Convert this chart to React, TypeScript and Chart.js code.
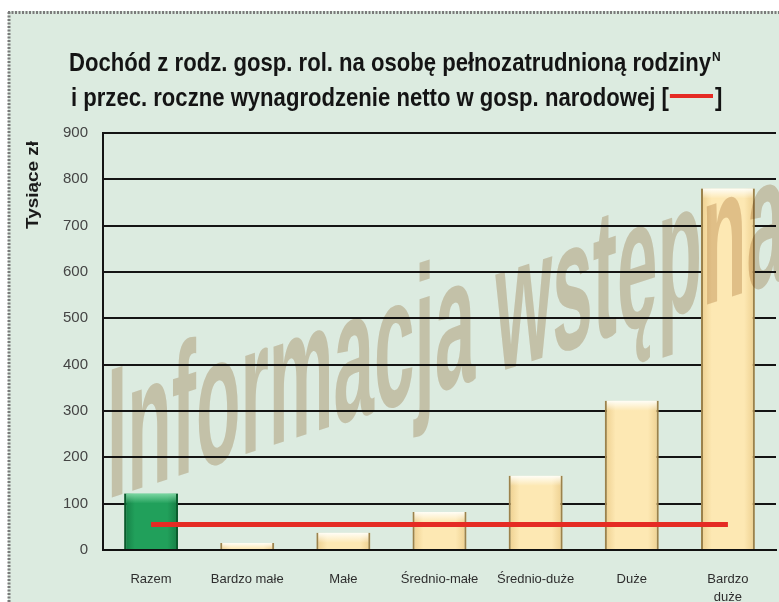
import React, { useEffect, useRef } from 'react';
import { Chart, registerables } from 'chart.js';

Chart.register(...registerables);

// ---- data ----
const categories: (string | string[])[] = [
  'Razem',
  'Bardzo małe',
  'Małe',
  'Średnio-małe',
  'Średnio-duże',
  'Duże',
  ['Bardzo', 'duże'],
];
const incomeValues = [122, 15, 37, 82, 160, 322, 780];
const wageValues = [55, 55, 55, 55, 55, 55, 55];
const yMin = 0;
const yMax = 900;
const yStep = 100;

const titleLine1 = 'Dochód z rodz. gosp. rol. na osobę pełnozatrudnioną rodziny';
const titleSup = 'N';
const titleLine2 = 'i przec. roczne wynagrodzenie netto w gosp. narodowej [';
const titleClose = ']';
const yTitle = 'Tysiące zł';
const watermarkText = 'Informacja wstępna';

const NARROW = '"Liberation Sans Narrow", "Arial Narrow", "Liberation Sans", Arial, sans-serif';
const SANS = '"Liberation Sans", Arial, sans-serif';

const backgroundPlugin = {
  id: 'bgFrame',
  beforeDraw(chart: any) {
    const { ctx, width, height } = chart;
    ctx.save();
    ctx.fillStyle = '#ffffff';
    ctx.fillRect(0, 0, width, height);
    ctx.fillStyle = '#dcebe0';
    ctx.fillRect(8, 11, width - 8, height - 11);
    ctx.strokeStyle = '#7a7a7a';
    ctx.lineWidth = 3;
    ctx.setLineDash([2, 1.5]);
    ctx.beginPath();
    ctx.moveTo(8, 12.5);
    ctx.lineTo(width, 12.5);
    ctx.moveTo(9, 12);
    ctx.lineTo(9, height);
    ctx.stroke();
    ctx.restore();
  },
};

const titlePlugin = {
  id: 'customTitle',
  afterDraw(chart: any) {
    const ctx = chart.ctx;
    ctx.save();
    ctx.fillStyle = '#141414';
    ctx.textBaseline = 'alphabetic';
    ctx.textAlign = 'left';
    ctx.font = `bold 26px ${NARROW}`;
    const w1 = ctx.measureText(titleLine1).width;
    const sx = 642 / w1;
    ctx.save();
    ctx.translate(69, 71);
    ctx.scale(sx, 1);
    ctx.fillText(titleLine1, 0, 0);
    ctx.restore();
    ctx.font = `bold 12px ${NARROW}`;
    ctx.fillText(titleSup, 69 + 642 + 1, 61);

    ctx.font = `bold 26px ${NARROW}`;
    const w2 = ctx.measureText(titleLine2).width * sx;
    ctx.save();
    ctx.translate(71, 106);
    ctx.scale(sx, 1);
    ctx.fillText(titleLine2, 0, 0);
    ctx.restore();
    const rx = 71 + w2 + 1;
    ctx.strokeStyle = '#e52b24';
    ctx.lineWidth = 4;
    ctx.beginPath();
    ctx.moveTo(rx, 96);
    ctx.lineTo(713, 96);
    ctx.stroke();
    ctx.save();
    ctx.translate(715, 106);
    ctx.scale(sx, 1);
    ctx.fillText(titleClose, 0, 0);
    ctx.restore();

    // y axis title
    ctx.save();
    ctx.translate(33, 185);
    ctx.rotate(-Math.PI / 2);
    ctx.font = `bold 17px ${SANS}`;
    ctx.textAlign = 'center';
    ctx.textBaseline = 'middle';
    ctx.fillStyle = '#1a1a1a';
    const tw = ctx.measureText(yTitle).width;
    ctx.scale(88 / tw, 1);
    ctx.fillText(yTitle, 0, 0);
    ctx.restore();
    ctx.restore();
  },
};

const barDecorPlugin = {
  id: 'barDecor',
  afterDatasetDraw(chart: any, args: any) {
    const ds = chart.data.datasets[args.index];
    if (ds.type !== 'bar') return;
    const ctx = chart.ctx;
    const meta = args.meta;
    ctx.save();
    meta.data.forEach((el: any, i: number) => {
      const { x, y, base, width } = el.getProps(['x', 'y', 'base', 'width'], true);
      const left = x - width / 2;
      const h = base - y;
      const green = i === 0;
      const g = ctx.createLinearGradient(left, 0, left + width, 0);
      if (green) {
        g.addColorStop(0, 'rgba(0,60,25,0.35)');
        g.addColorStop(0.2, 'rgba(0,60,25,0)');
        g.addColorStop(0.8, 'rgba(0,60,25,0)');
        g.addColorStop(1, 'rgba(0,60,25,0.35)');
      } else {
        g.addColorStop(0, 'rgba(200,150,60,0.3)');
        g.addColorStop(0.2, 'rgba(200,150,60,0)');
        g.addColorStop(0.8, 'rgba(200,150,60,0)');
        g.addColorStop(1, 'rgba(200,150,60,0.3)');
      }
      ctx.fillStyle = g;
      ctx.fillRect(left, y, width, h);
      const th = Math.min(10, h);
      const v = ctx.createLinearGradient(0, y, 0, y + th);
      if (green) {
        v.addColorStop(0, 'rgba(140,225,175,0.85)');
        v.addColorStop(1, 'rgba(140,225,175,0)');
      } else {
        v.addColorStop(0, 'rgba(255,255,250,0.95)');
        v.addColorStop(1, 'rgba(255,255,250,0)');
      }
      ctx.fillStyle = v;
      ctx.fillRect(left + 2, y, width - 4, th);
    });
    ctx.restore();
  },
};

const watermarkPlugin = {
  id: 'watermark',
  afterDatasetsDraw(chart: any) {
    const ctx = chart.ctx;
    const area = chart.chartArea;
    ctx.save();
    ctx.beginPath();
    ctx.rect(area.left, area.top - 40, chart.width - area.left, area.bottom - area.top + 40);
    ctx.clip();
    ctx.globalCompositeOperation = 'multiply';
    ctx.fillStyle = 'rgb(226,210,192)';
    ctx.font = `bold 186px ${NARROW}`;
    ctx.textBaseline = 'alphabetic';
    ctx.textAlign = 'left';
    const w = ctx.measureText(watermarkText).width;
    const sx = 680 / w;
    ctx.translate(107, 499);
    ctx.transform(1, -0.324, 0, 1, 0, 0);
    ctx.scale(sx, 1);
    ctx.fillText(watermarkText, 0, 0);
    ctx.restore();
  },
};

export default function App() {
  const canvasRef = useRef<HTMLCanvasElement | null>(null);

  useEffect(() => {
    document.body.style.margin = '0';
    const canvas = canvasRef.current;
    if (!canvas) return;
    const barColors = incomeValues.map((_, i) => (i === 0 ? '#21a05b' : '#fde8b3'));
    const barBorders = incomeValues.map((_, i) => (i === 0 ? '#0e6a36' : '#8a7a52'));
    const chart = new Chart(canvas, {
      type: 'bar',
      data: {
        labels: categories as any,
        datasets: [
          {
            type: 'line',
            label: 'Przeciętne roczne wynagrodzenie netto',
            data: wageValues,
            borderColor: '#e52b24',
            backgroundColor: '#e52b24',
            borderWidth: 5,
            pointRadius: 0,
            borderCapStyle: 'butt',
            order: 0,
          } as any,
          {
            type: 'bar',
            label: 'Dochód na osobę pełnozatrudnioną',
            data: incomeValues,
            backgroundColor: barColors,
            borderColor: barBorders,
            borderWidth: { left: 2, right: 2, top: 0, bottom: 0 },
            borderSkipped: false,
            barPercentage: 0.56,
            categoryPercentage: 1.0,
            order: 1,
          } as any,
        ],
      },
      options: {
        responsive: false,
        animation: false,
        devicePixelRatio: 1,
        layout: { padding: { top: 133, left: 0, right: 3, bottom: 0 } },
        plugins: {
          legend: { display: false },
          tooltip: { enabled: false },
          title: { display: false },
        },
        scales: {
          x: {
            grid: { display: false },
            border: { display: true, color: '#111111', width: 2 },
            ticks: {
              color: '#2e2e2e',
              font: { family: NARROW, size: 13, lineHeight: 1.4 },
              padding: 12,
              maxRotation: 0,
              autoSkip: false,
            },
            afterFit: (s: any) => {
              s.height = 52;
            },
          },
          y: {
            min: yMin,
            max: yMax,
            ticks: {
              stepSize: yStep,
              color: '#444444',
              font: { family: NARROW, size: 15 },
              padding: 15,
            },
            grid: { color: '#141414', lineWidth: 2, drawTicks: false },
            border: { display: true, color: '#141414', width: 2 },
            afterFit: (s: any) => {
              s.width = 103;
            },
          },
        },
      } as any,
      plugins: [backgroundPlugin, barDecorPlugin, watermarkPlugin, titlePlugin],
    });
    return () => chart.destroy();
  }, []);

  return (
    <div style={{ width: 779, height: 602 }}>
      <canvas ref={canvasRef} width={779} height={602} style={{ display: 'block' }} />
    </div>
  );
}
